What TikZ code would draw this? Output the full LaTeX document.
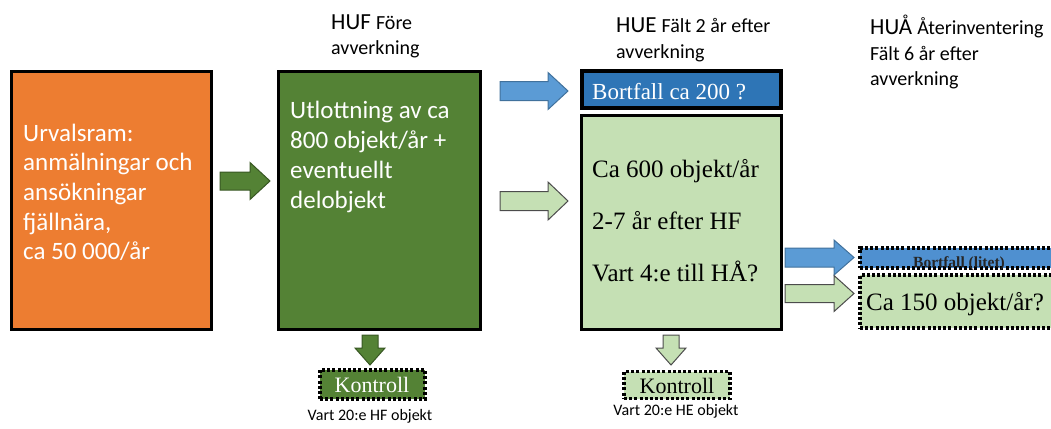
\documentclass[tikz,border=0pt]{standalone}
\usepackage{fontspec}
\setmainfont{Liberation Serif}
\newfontfamily\calfont{Carlito}
\definecolor{orangeF}{HTML}{ED7D31}
\definecolor{dkgreen}{HTML}{548235}
\definecolor{dkgreenB}{HTML}{385723}
\definecolor{ltgreen}{HTML}{C5E0B4}
\definecolor{boxblue}{HTML}{2E75B6}
\definecolor{arrblue}{HTML}{5B9BD5}
\definecolor{arrblueB}{HTML}{41719C}
\definecolor{litetblue}{HTML}{4F90D0}
\newcommand{\RArr}[6]{%
 \filldraw[#1] (#2,{#4-#5}) -- ({#3-20},{#4-#5}) -- ({#3-20},{#4-#6}) -- (#3,#4) -- ({#3-20},{#4+#6}) -- ({#3-20},{#4+#5}) -- (#2,{#4+#5}) -- cycle;}
\newcommand{\DArr}[6]{%
 \filldraw[#1] ({#2-#5},#3) -- ({#2-#5},{#4-17}) -- ({#2-#6},{#4-17}) -- (#2,#4) -- ({#2+#6},{#4-17}) -- ({#2+#5},{#4-17}) -- ({#2+#5},#3) -- cycle;}
\begin{document}
\begin{tikzpicture}[x=1pt,y=-1pt,
  bigbox/.style={draw=black, line width=3pt, inner sep=0pt},
  dotbox/.style={draw=black, line width=3.2pt, dash pattern=on 3pt off 2.2pt, inner sep=0pt},
  sanstxt/.style={font=\calfont\fontsize{25}{30}\selectfont, inner sep=0pt, anchor=base west},
  sertxt/.style={font=\fontsize{25}{30}\selectfont, inner sep=0pt, anchor=base west},
  headbig/.style={font=\calfont\fontsize{23}{26}\selectfont, inner sep=0pt, anchor=base west},
  headtxt/.style={font=\calfont\fontsize{20}{26}\selectfont, inner sep=0pt, anchor=base west},
  smalltxt/.style={font=\calfont\fontsize{16}{19}\selectfont, inner sep=0pt, anchor=base},
  arrG/.style={fill=dkgreen, draw=dkgreenB, line width=1pt},
  arrLG/.style={fill=ltgreen, draw=black!70, line width=1pt},
  arrB/.style={fill=arrblue, draw=arrblueB, line width=1pt}]
\clip (0,0) rectangle (1051,428);
% headers
\node[headbig] (hufh) at (331,30) {HUF \fontsize{20}{26}\selectfont Före};
\node[headtxt] (hufh2) at (331,55) {avverkning};
\node[headbig] (hueh) at (616,33) {HUE \fontsize{20}{26}\selectfont Fält 2 år efter};
\node[headtxt] (hueh2) at (616,59) {avverkning};
\node[headbig] (huah) at (870,35) {HUÅ \fontsize{20}{26}\selectfont Återinventering};
\node[headtxt] (huah2) at (870,60) {Fält 6 år efter};
\node[headtxt] (huah3) at (870,85) {avverkning};
% boxes
\node[bigbox, fill=orangeF, minimum width=200pt, minimum height=258pt] (urval) at (111,200) {};
\node[bigbox, fill=dkgreen, minimum width=202pt, minimum height=258pt] (huf) at (379,200) {};
\node[bigbox, line width=3.5pt, fill=boxblue, minimum width=199pt, minimum height=37pt] (bf200) at (681.5,89.5) {};
\node[bigbox, fill=ltgreen, minimum width=200pt, minimum height=214pt] (hue) at (681,222) {};
\node[dotbox, fill=litetblue, minimum width=202pt, minimum height=20pt] (litet) at (961,258) {};
\node[dotbox, fill=ltgreen, minimum width=202pt, minimum height=53pt] (ca150) at (961,301.5) {};
\node[dotbox, fill=dkgreen, minimum width=105pt, minimum height=29pt] (k1) at (372.5,384.5) {};
\node[dotbox, fill=ltgreen, minimum width=106pt, minimum height=27pt] (k2) at (677,385) {};
% texts
\node[sanstxt, text=white] (u1) at (23,141) {Urvalsram:};
\node[sanstxt, text=white] (u2) at (23,170.7) {anmälningar och};
\node[sanstxt, text=white] (u3) at (23,200.4) {ansökningar};
\node[sanstxt, text=white] (u4) at (23,230.1) {fjällnära,};
\node[sanstxt, text=white] (u5) at (23,259.8) {ca 50 000/år};
\node[sanstxt, text=white] (g1) at (290,118) {Utlottning av ca};
\node[sanstxt, text=white] (g2) at (290,148) {800 objekt/år +};
\node[sanstxt, text=white] (g3) at (290,178) {eventuellt};
\node[sanstxt, text=white] (g4) at (290,208) {delobjekt};
\node[font=\fontsize{23}{27}\selectfont, text=white, inner sep=0pt, anchor=base west] (b200) at (592,99) {Bortfall ca 200 ?};
\node[sertxt] (l1) at (592,177) {Ca 600 objekt/år};
\node[sertxt] (l2) at (592,229) {2-7 år efter HF};
\node[sertxt] (l3) at (592,281) {Vart 4:e till HÅ?};
\node[font=\bfseries\fontsize{15.5}{17}\selectfont, text=black!85, inner sep=0pt, anchor=base] (lt) at (959,267) {Bortfall (litet)};
\node[font=\fontsize{25}{30}\selectfont, inner sep=0pt, anchor=base] (c150) at (955,310) {Ca 150 objekt/år?};
\node[font=\fontsize{22}{26}\selectfont, text=white, inner sep=0pt, anchor=base] (k1t) at (372,392) {Kontroll};
\node[font=\fontsize{22}{26}\selectfont, inner sep=0pt, anchor=base] (k2t) at (677,393) {Kontroll};
\node[smalltxt] (v1) at (370,420) {Vart 20:e HF objekt};
\node[smalltxt] (v2) at (676,415) {Vart 20:e HE objekt};
% block arrows
\RArr{arrG}{220}{270}{181}{9}{18.5}
\RArr{arrB}{500}{568}{91}{9.5}{18.5}
\RArr{arrLG}{500}{568}{201}{9.5}{19}
\RArr{arrB}{785}{854}{257.5}{9.5}{17.5}
\RArr{arrLG}{785}{854}{293.5}{9}{18}
\DArr{arrG}{370}{335}{365}{8}{15}
\DArr{arrLG}{671}{335}{365}{8}{15}
\end{tikzpicture}
\end{document}
